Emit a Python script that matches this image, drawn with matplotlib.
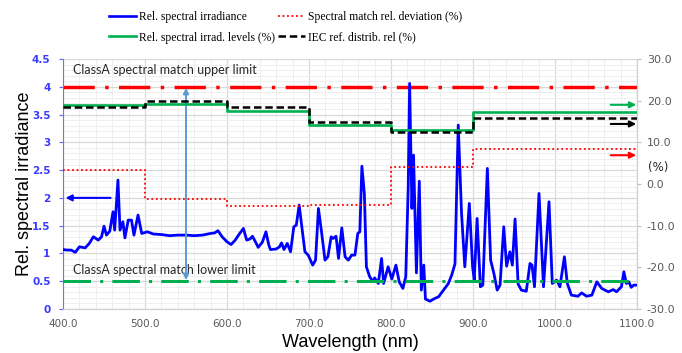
import matplotlib
matplotlib.use("Agg")
import matplotlib.pyplot as plt
from matplotlib.lines import Line2D
from matplotlib.ticker import MultipleLocator, FormatStrFormatter

# measured spectrum (wavelength nm, relative irradiance)
wl = [400, 405, 410, 415, 420, 427, 432, 437, 443, 447, 450, 453, 457, 461, 463,
      467, 469.5, 473, 475.5, 479.5, 483.5, 486.5, 491.5, 496, 503, 510, 520, 530,
      540, 550, 560, 570, 580, 585, 589, 594, 600, 605, 610, 615, 620, 624, 628,
      631, 635, 638, 643, 647.5, 651, 653, 660, 664, 666.5, 669.5, 673.5, 677.5,
      681.5, 684.5, 688, 691, 695, 699, 704.5, 708, 711.5, 715, 719.5, 723, 727,
      729.5, 733, 736, 740, 744, 748, 752, 756, 759.5, 762, 764.5, 767.5, 770,
      774, 778.5, 780, 784.5, 788.5, 791, 796.5, 801, 806, 810, 814.5, 818, 821,
      822.7, 825.5, 827.5, 831, 834.5, 837, 840, 842, 847.5, 852, 858, 864, 870,
      874, 878, 882, 886, 890, 895.5, 899.5, 901.5, 905, 909, 912, 917.5, 921.5,
      925.5, 929.5, 933, 937.5, 941, 945, 948, 951.3, 955, 959, 965, 969.5, 972,
      975, 980.5, 986, 992.7, 996.7, 1002, 1006, 1011.5, 1015, 1020, 1028, 1032.5,
      1038.5, 1045, 1051, 1057, 1065, 1071, 1075, 1081, 1084, 1087, 1090, 1093,
      1096, 1100]
irr = [1.07, 1.06, 1.06, 1.02, 1.12, 1.10, 1.18, 1.30, 1.24, 1.30, 1.49, 1.33, 1.40, 1.75, 1.42,
       2.32, 1.42, 1.57, 1.28, 1.60, 1.60, 1.33, 1.69, 1.36, 1.39, 1.35, 1.34, 1.32,
       1.33, 1.33, 1.32, 1.33, 1.36, 1.37, 1.41, 1.30, 1.21, 1.16, 1.24, 1.35, 1.45, 1.24, 1.26,
       1.31, 1.20, 1.11, 1.20, 1.39, 1.15, 1.07, 1.08, 1.12, 1.19, 1.07, 1.18, 1.03,
       1.48, 1.51, 1.87, 1.51, 1.03, 0.97, 0.79, 0.88, 1.81, 1.42, 0.88, 0.94, 1.30,
       1.27, 1.31, 0.91, 1.46, 0.94, 0.88, 0.97, 0.97, 1.36, 1.39, 2.57, 2.08, 0.76,
       0.58, 0.49, 0.56, 0.46, 0.91, 0.46, 0.76, 0.54, 0.79, 0.49, 0.37, 0.58, 2.20,
       4.06, 1.81, 2.77, 0.65, 2.30, 0.34, 0.79, 0.18, 0.14, 0.18, 0.22, 0.34, 0.46,
       0.61, 0.81, 3.31, 1.73, 0.76, 1.90, 0.76, 0.52, 1.63, 0.40, 0.43, 2.53, 0.88,
       0.64, 0.34, 0.43, 1.48, 0.77, 1.03, 0.79, 1.62, 0.45, 0.34, 0.32, 0.82, 0.79,
       0.40, 2.08, 0.40, 1.93, 0.46, 0.52, 0.40, 0.94, 0.46, 0.25, 0.23, 0.29,
       0.23, 0.25, 0.49, 0.37, 0.31, 0.35, 0.31, 0.40, 0.67, 0.46, 0.49, 0.39,
       0.43, 0.43]

# band edges and per-band values (%)
band_edges = [400, 500, 600, 700, 800, 900, 1100]
levels_pct = [18.9, 19.3, 17.5, 14.1, 12.9, 17.3]
iec_pct = [18.4, 19.9, 18.4, 14.9, 12.5, 15.9]
deviation_pct = [3.3, -3.7, -5.4, -5.1, 4.0, 8.5]

upper_limit = 4.0
lower_limit = 0.5

BLUE = "#0000FF"
GREEN = "#00B050"
RED = "#FF0000"
GRAY = "#595959"
LIMIT_DASH = (9, 3, 1, 3)


def steps(vals):
    return vals + [vals[-1]]


fig = plt.figure(figsize=(6.82, 3.53), dpi=100)
ax = fig.add_axes([0.0924, 0.1246, 0.8416, 0.7084])
ax2 = ax.twinx()

# grid
ax.set_xlim(400, 1100)
ax.set_ylim(0, 4.5)
ax.xaxis.set_major_locator(MultipleLocator(100))
ax.xaxis.set_minor_locator(MultipleLocator(20))
ax.yaxis.set_major_locator(MultipleLocator(0.5))
ax.yaxis.set_minor_locator(MultipleLocator(0.1))
ax.grid(which="major", color="#D9D9D9", lw=0.9)
ax.grid(which="minor", color="#EEEEEE", lw=0.7)
ax.set_axisbelow(True)

# spectrum
ax.plot(wl, irr, color=BLUE, lw=2.0, zorder=3)

# class A limits
ax.axhline(upper_limit, color=RED, lw=2.5, dashes=LIMIT_DASH, zorder=2)
ax.axhline(lower_limit, color=GREEN, lw=2.2, dashes=LIMIT_DASH, zorder=4)
ax.text(412, 4.30, "ClassA spectral match upper limit", fontsize=9,
        family="Lato", color="#262626", va="center")
ax.text(412, 0.70, "ClassA spectral match lower limit", fontsize=9,
        family="Lato", color="#262626", va="center")

# range arrow
ax.annotate("", xy=(550, upper_limit - 0.02), xytext=(550, lower_limit + 0.02),
            arrowprops=dict(arrowstyle="<|-|>", color="#5B9BD5", lw=1.4,
                            mutation_scale=8, shrinkA=0, shrinkB=0))
# left axis pointer
ax.annotate("", xy=(403, 2.0), xytext=(458, 2.0),
            arrowprops=dict(arrowstyle="-|>", color=BLUE, lw=1.5,
                            mutation_scale=9, shrinkA=0, shrinkB=0))

# band series on right axis
ax2.set_ylim(-30, 30)
ax2.plot(band_edges, steps(levels_pct), drawstyle="steps-post", color=GREEN, lw=1.9)
ax2.plot(band_edges, steps(iec_pct), drawstyle="steps-post", color="black", lw=1.8,
         dashes=(3, 1.5))
ax2.plot(band_edges, steps(deviation_pct), drawstyle="steps-post", color=RED, lw=1.3,
         dashes=(1, 1.5))

# right axis pointers
for yv, col in [(19.0, GREEN), (14.4, "black"), (6.9, RED)]:
    ax2.annotate("", xy=(1099, yv), xytext=(1068, yv),
                 arrowprops=dict(arrowstyle="-|>", color=col, lw=1.5,
                                 mutation_scale=9, shrinkA=0, shrinkB=0))

# axes styling
ax.set_xticks(range(400, 1101, 100))
ax.set_xticklabels(["%.1f" % v for v in range(400, 1101, 100)])
ax.tick_params(axis="x", which="major", colors="#BFBFBF", labelcolor=GRAY,
               labelsize=7.5, length=0, pad=7)
ax.tick_params(axis="x", which="minor", length=0)
ax.yaxis.set_major_formatter(FormatStrFormatter("%g"))
ax.tick_params(axis="y", which="major", colors="#6B6BFF", labelcolor="#3A3AFF",
               labelsize=7.5, length=3, width=0.9, pad=6)
ax.tick_params(axis="y", which="minor", length=0)
for lab in ax.get_yticklabels():
    lab.set_fontweight("bold")

ax2.yaxis.set_major_locator(MultipleLocator(10))
ax2.yaxis.set_major_formatter(FormatStrFormatter("%.1f"))
ax2.tick_params(axis="y", colors="#BFBFBF", labelcolor=GRAY, labelsize=8,
                length=3, width=0.8, pad=4)

for a in (ax, ax2):
    a.spines["top"].set_visible(False)
    a.spines["bottom"].set_color("#D0D0D0")
    a.spines["left"].set_color("#7070FF")
    a.spines["right"].set_color("#D0D0D0")
ax2.spines["left"].set_visible(False)

ax.set_xlabel("Wavelength (nm)", fontsize=13, family="Liberation Sans", labelpad=4)
ax.set_ylabel("Rel. spectral irradiance", fontsize=13, family="Liberation Sans",
              labelpad=-1)
fig.text(0.965, 0.525, "(%)", fontsize=8.5, color="#262626", ha="center", va="center")

# legend
handles = [
    Line2D([], [], color=BLUE, lw=1.9),
    Line2D([], [], color=GREEN, lw=1.9),
    Line2D([], [], color=RED, lw=1.3, dashes=(1, 1.5)),
    Line2D([], [], color="black", lw=1.8, dashes=(3, 1.5)),
]
labels = ["Rel. spectral irradiance", "Rel. spectral irrad. levels (%)",
          "Spectral match rel. deviation (%)", "IEC ref. distrib. rel (%)"]
fig.legend(handles, labels, ncol=2, loc="upper left", bbox_to_anchor=(0.153, 0.981),
           frameon=False, prop={"family": "Liberation Serif", "size": 8.4},
           handlelength=2.3, handletextpad=0.3, columnspacing=0.2,
           labelspacing=0.7, borderaxespad=0.0)

fig.savefig("out.png", dpi=100)
